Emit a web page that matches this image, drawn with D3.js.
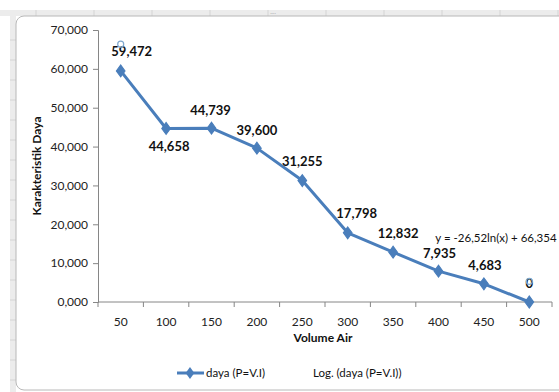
<!DOCTYPE html>
<html>
<head>
<meta charset="utf-8">
<script src="https://cdn.jsdelivr.net/npm/d3@7"></script>
<style>
  html, body { margin: 0; padding: 0; background: #ffffff; }
  svg { display: block; font-family: Lato, "Open Sans", "Liberation Sans", sans-serif; }
</style>
</head>
<body>
<svg id="chart" width="559" height="392"></svg>
<script>
// Volume (x categories) and power characteristic (y values)
const categories = ["50", "100", "150", "200", "250", "300", "350", "400", "450", "500"];
const daya = [59.472, 44.658, 44.739, 39.600, 31.255, 17.798, 12.832, 7.935, 4.683, 0];
const yTicks = [0, 10, 20, 30, 40, 50, 60, 70];
// Logarithmic trendline coefficients: y = a ln(x) + b
const trendA = -26.52;
const trendB = 66.354;
const seriesName = "daya (P=V.I)";
const trendName = "Log. (daya (P=V.I))";

// per-label nudges (dx, dy) relative to the point
const labelNudge = [[11, -19], [3, 18], [-1, -18], [0, -18], [0, -19], [9, -19], [5, -19], [1, -18], [1, -18], [0, -19]];

const svg = d3.select("#chart");
const fmt = v => v === 0 ? "0" : d3.format(",.3f")(v).replace(".", ",");

// sheet frame behind the chart
svg.append("rect").attr("x", 0).attr("y", 10).attr("width", 559).attr("height", 6).attr("fill", "#ececec");
svg.append("rect").attr("x", 10).attr("y", 10).attr("width", 6).attr("height", 382).attr("fill", "#ececec");
d3.range(36, 559, 58).forEach(x => svg.append("line").attr("x1", x).attr("x2", x).attr("y1", 10).attr("y2", 16).attr("stroke", "#d4d4d4"));
d3.range(40, 392, 20).forEach(y => svg.append("line").attr("x1", 10).attr("x2", 16).attr("y1", y).attr("y2", y).attr("stroke", "#d4d4d4"));
svg.append("text").attr("x", 273).attr("y", 14).attr("font-size", 6).attr("fill", "#999").attr("text-anchor", "middle").text("....");
svg.append("rect").attr("x", 16).attr("y", 16).attr("width", 560).attr("height", 374).attr("rx", 8)
  .attr("fill", "#ffffff").attr("stroke", "#b8b8b8").attr("stroke-width", 1);

const x = d3.scaleBand().domain(categories).range([98, 552]);
const y = d3.scaleLinear().domain([0, 70]).range([302, 30]);

// y axis
const yAxis = d3.axisLeft(y).tickValues(yTicks).tickSize(5).tickPadding(5)
  .tickFormat(v => v + ",000");
const gy = svg.append("g").attr("transform", "translate(98,0)").call(yAxis);
gy.select(".domain").attr("stroke", "#868686");
gy.selectAll(".tick line").attr("stroke", "#868686");
gy.selectAll(".tick text").attr("font-size", 12).attr("fill", "#222").attr("font-family", "Lato, sans-serif");

// x axis: tick marks at band boundaries, labels at band centres
const gx = svg.append("g").attr("transform", "translate(0,302)");
gx.append("line").attr("x1", 98).attr("x2", 552).attr("stroke", "#868686");
d3.range(categories.length + 1).forEach(i => {
  const xp = 98 + i * x.step();
  gx.append("line").attr("x1", xp).attr("x2", xp).attr("y1", 0).attr("y2", 5).attr("stroke", "#868686");
});
gx.selectAll("text.cat").data(categories).enter().append("text").attr("class", "cat")
  .attr("x", d => x(d) + x.bandwidth() / 2).attr("y", 24)
  .attr("text-anchor", "middle").attr("font-size", 12).attr("fill", "#222").text(d => d);

// axis titles
svg.append("text").attr("x", 323).attr("y", 342).attr("text-anchor", "middle")
  .attr("font-size", 12).attr("font-weight", "bold").attr("fill", "#111").text("Volume Air");
svg.append("text").attr("transform", "translate(41,166) rotate(-90)").attr("text-anchor", "middle")
  .attr("font-size", 12).attr("font-weight", "bold").attr("fill", "#111").text("Karakteristik Daya");

// data line
const cx = (d, i) => x(categories[i]) + x.bandwidth() / 2;
const line = d3.line().x((d, i) => cx(d, i)).y(d => y(d));
svg.append("path").datum(daya).attr("d", line).attr("fill", "none")
  .attr("stroke", "#4a7ebb").attr("stroke-width", 3).attr("stroke-linejoin", "round");

const diamond = d3.symbol().type(d3.symbolDiamond).size(45);
svg.selectAll("path.mk").data(daya).enter().append("path").attr("class", "mk")
  .attr("d", diamond).attr("transform", (d, i) => `translate(${cx(d, i)},${y(d)}) scale(1.2,0.95)`)
  .attr("fill", "#4a7ebb").attr("stroke", "#4a7ebb");

// value labels
svg.selectAll("text.val").data(daya).enter().append("text").attr("class", "val")
  .attr("x", (d, i) => cx(d, i) + labelNudge[i][0])
  .attr("y", (d, i) => y(d) + labelNudge[i][1] + 4.5)
  .attr("text-anchor", "middle").attr("font-size", 13).attr("font-weight", "bold").attr("fill", "#111")
  .text(d => fmt(d));

// trendline end markers (first and last category positions), drawn over the labels
const trendVal = n => trendA * Math.log(n) + trendB;
[1, categories.length].forEach(n => {
  svg.append("circle").attr("cx", cx(null, n - 1)).attr("cy", y(trendVal(n))).attr("r", 3)
    .attr("fill", "none").attr("stroke", "#7fa8cf").attr("stroke-width", 1.2);
});

// trendline equation
svg.append("text").attr("x", 496).attr("y", 242).attr("text-anchor", "middle")
  .attr("font-size", 11.5).attr("fill", "#111")
  .text(`y = ${String(trendA).replace(".", ",")}ln(x) + ${String(trendB).replace(".", ",")}`);

// legend
const lg = svg.append("g");
lg.append("line").attr("x1", 177).attr("x2", 204).attr("y1", 373).attr("y2", 373)
  .attr("stroke", "#4a7ebb").attr("stroke-width", 3);
lg.append("path").attr("d", diamond).attr("transform", "translate(190,373) scale(1.2,0.95)").attr("fill", "#4a7ebb");
lg.append("text").attr("x", 206).attr("y", 377).attr("font-size", 11.5).attr("fill", "#111").text(seriesName);
lg.append("text").attr("x", 313).attr("y", 377).attr("font-size", 11.5).attr("fill", "#111").text(trendName);
</script>
</body>
</html>
